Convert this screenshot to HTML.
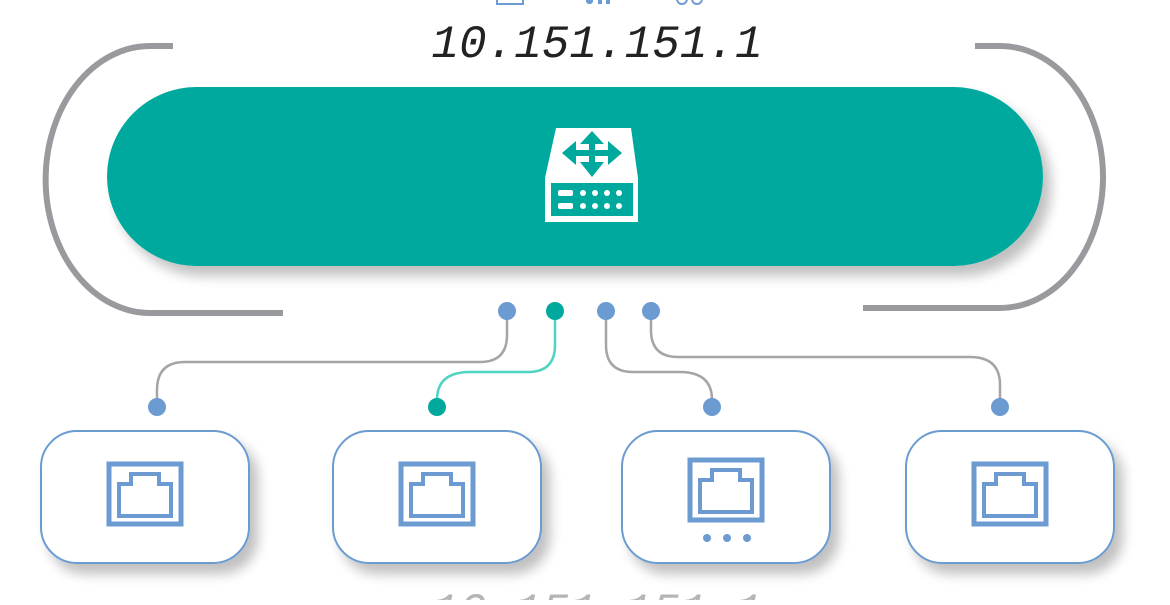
<!DOCTYPE html>
<html><head><style>
body{margin:0;width:1170px;height:600px;overflow:hidden;background:#fff}
</style></head><body>
<svg width="1170" height="600" viewBox="0 0 1170 600" xmlns="http://www.w3.org/2000/svg">
<defs>
<filter id="sh" x="-20%" y="-20%" width="150%" height="160%"><feGaussianBlur in="SourceAlpha" stdDeviation="6"/><feOffset dx="8" dy="10"/><feComponentTransfer><feFuncA type="linear" slope="0.25"/></feComponentTransfer><feMerge><feMergeNode/><feMergeNode in="SourceGraphic"/></feMerge></filter>
<g id="rj"><rect x="-36" y="-30" width="72" height="60" fill="none" stroke="#6b9bd1" stroke-width="5"/><path d="M-26,22 V-10 H-14 V-20 H14 V-10 H26 V22 Z" fill="none" stroke="#6b9bd1" stroke-width="4"/></g>
</defs>
<!-- top clipped icons -->
<rect x="497" y="-6" width="26" height="10" fill="none" stroke="#6b9bd1" stroke-width="2"/>
<rect x="586" y="-4" width="7" height="8" rx="3" fill="#6b9bd1"/><rect x="598" y="-4" width="4" height="8" fill="#6b9bd1"/><rect x="606" y="-4" width="4" height="8" fill="#6b9bd1"/>
<circle cx="682" cy="-1" r="5" fill="none" stroke="#6b9bd1" stroke-width="2"/><circle cx="697" cy="-1" r="5" fill="none" stroke="#6b9bd1" stroke-width="2"/>
<text x="597" y="57" text-anchor="middle" font-family="Liberation Mono, monospace" font-style="italic" font-size="46" fill="#222">10.151.151.1</text>
<!-- grey brackets -->
<path d="M173,46 H150 A104 133 0 0 0 150,313 H283" fill="none" stroke="#9a9a9e" stroke-width="6"/>
<path d="M975,46 H1000 A103 131 0 0 1 1000,308 H863" fill="none" stroke="#9a9a9e" stroke-width="6"/>
<!-- pill -->
<rect x="107" y="87" width="936" height="179" rx="89.5" fill="#00a99d" filter="url(#sh)"/>
<!-- router icon -->
<path d="M556,128 H631 L638,178 V222 H545 V178 Z" fill="#fff"/>
<rect x="551" y="183" width="82" height="33" fill="#00a99d"/>
<rect x="558" y="190" width="15" height="6" rx="2" fill="#fff"/><rect x="558" y="203" width="15" height="6" rx="2" fill="#fff"/>
<g fill="#fff"><circle cx="583" cy="193" r="3"/><circle cx="595" cy="193" r="3"/><circle cx="607" cy="193" r="3"/><circle cx="619" cy="193" r="3"/><circle cx="583" cy="206" r="3"/><circle cx="595" cy="206" r="3"/><circle cx="607" cy="206" r="3"/><circle cx="619" cy="206" r="3"/></g>
<g fill="#00a99d"><path d="M592,131 L604,144 H580 Z"/><path d="M592,177 L604,162 H580 Z"/><path d="M562,153 L576,141 V165 Z"/><path d="M622,153 L608,141 V165 Z"/><rect x="589" y="140" width="6" height="25"/><rect x="574" y="150" width="36" height="6"/></g>
<!-- connectors -->
<g fill="none" stroke-width="2.5">
<path d="M507,311 V335 Q507,362 480,362 H185 Q157,362 157,390 V407" stroke="#a5a5a8"/>
<path d="M555,311 V345 Q555,372 528,372 H470 Q437,372 437,400 V407" stroke="#4fd4c4"/>
<path d="M606,311 V345 Q606,372 633,372 H680 Q712,372 712,400 V407" stroke="#a5a5a8"/>
<path d="M651,311 V330 Q651,357 678,357 H970 Q1000,357 1000,385 V407" stroke="#a5a5a8"/>
</g>
<g fill="#6b9bd1"><circle cx="507" cy="311" r="9"/><circle cx="606" cy="311" r="9"/><circle cx="651" cy="311" r="9"/><circle cx="157" cy="407" r="9"/><circle cx="712" cy="407" r="9"/><circle cx="1000" cy="407" r="9"/></g>
<g fill="#00a99d"><circle cx="555" cy="311" r="9"/><circle cx="437" cy="407" r="9"/></g>
<!-- boxes -->
<g fill="#fff" stroke="#6b9bd1" stroke-width="2" filter="url(#sh)">
<rect x="41" y="431" width="208" height="132" rx="36"/>
<rect x="333" y="431" width="208" height="132" rx="36"/>
<rect x="622" y="431" width="208" height="132" rx="36"/>
<rect x="906" y="431" width="208" height="132" rx="36"/>
</g>
<use href="#rj" x="145" y="494"/>
<use href="#rj" x="437" y="494"/>
<use href="#rj" x="726" y="490"/>
<use href="#rj" x="1010" y="494"/>
<g fill="#6b9bd1"><circle cx="707" cy="538" r="4"/><circle cx="727" cy="538" r="4"/><circle cx="747" cy="538" r="4"/></g>
<text x="597" y="625" text-anchor="middle" font-family="Liberation Mono, monospace" font-style="italic" font-size="46" fill="#b5b5b5">10.151.151.1</text>
</svg>
</body></html>
